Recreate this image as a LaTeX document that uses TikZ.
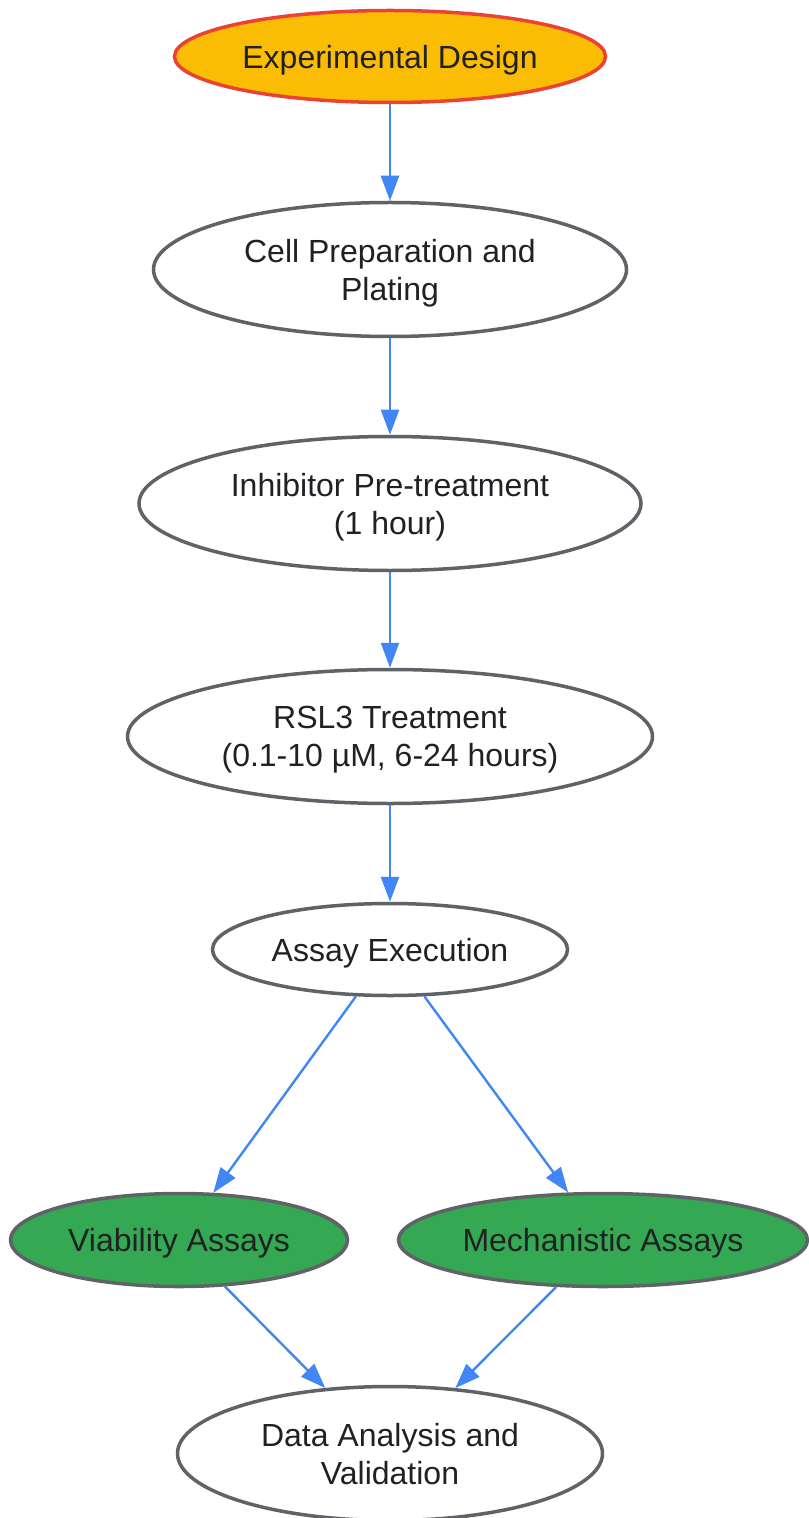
\documentclass[tikz,border=0pt]{standalone}
\usepackage{fontspec}
\setmainfont{Liberation Sans}
\usepackage{tikz}
\usetikzlibrary{shapes.geometric,arrows.meta}

\definecolor{flowblue}{HTML}{4285F4}
\definecolor{startfill}{HTML}{FBBC04}
\definecolor{startline}{HTML}{EA4335}
\definecolor{assayfill}{HTML}{34A853}
\definecolor{edgegray}{HTML}{5F6368}
\definecolor{textgray}{HTML}{202124}

\tikzset{
    stage/.style={ellipse, draw=edgegray, fill=white, line width=1.75pt,
        inner sep=0pt, align=center, text=textgray, text depth=0pt,
        font=\fontsize{16pt}{19pt}\selectfont},
    startstage/.style={stage, draw=startline, fill=startfill},
    assaystage/.style={stage, fill=assayfill},
    flow/.style={-{Triangle[length=12.5pt,width=9pt]}, flowblue, line width=1.2pt}
}

\begin{document}
\begin{tikzpicture}[x=0.5pt, y=-0.5pt]
    % Canvas of the reference
    \useasboundingbox (0,0) rectangle (808,1518);
    % Start node
    \node[startstage, minimum width=215.5pt, minimum height=46pt] (design) at (390,56.5) {Experimental Design};
    % Main sequence
    \node[stage, minimum width=236.5pt, minimum height=67pt] (plating) at (390,269.5) {Cell Preparation and\\Plating};
    \node[stage, minimum width=251pt, minimum height=67pt] (pretreat) at (390,503.5) {Inhibitor Pre-treatment\\(1 hour)};
    \node[stage, minimum width=262.5pt, minimum height=67pt] (rsl) at (390,736.5) {RSL3 Treatment\\(0.1-10 µM, 6-24 hours)};
    \node[stage, minimum width=177.5pt, minimum height=46pt] (assay) at (390,949.5) {Assay Execution};
    % Two assay branches
    \node[assaystage, minimum width=168.5pt, minimum height=46.5pt] (viability) at (179,1240) {Viability Assays};
    \node[assaystage, minimum width=204.5pt, minimum height=46.5pt] (mechanism) at (603,1240) {Mechanistic Assays};
    % Final node
    \node[stage, minimum width=212.5pt, minimum height=67pt] (analysis) at (390,1453.5) {Data Analysis and\\Validation};
    % Connectors
    \draw[flow] (design) -- (plating);
    \draw[flow] (plating) -- (pretreat);
    \draw[flow] (pretreat) -- (rsl);
    \draw[flow] (rsl) -- (assay);
    \draw[flow] (assay) -- (viability);
    \draw[flow] (assay) -- (mechanism);
    \draw[flow] (viability) -- (analysis);
    \draw[flow] (mechanism) -- (analysis);
\end{tikzpicture}
\end{document}
